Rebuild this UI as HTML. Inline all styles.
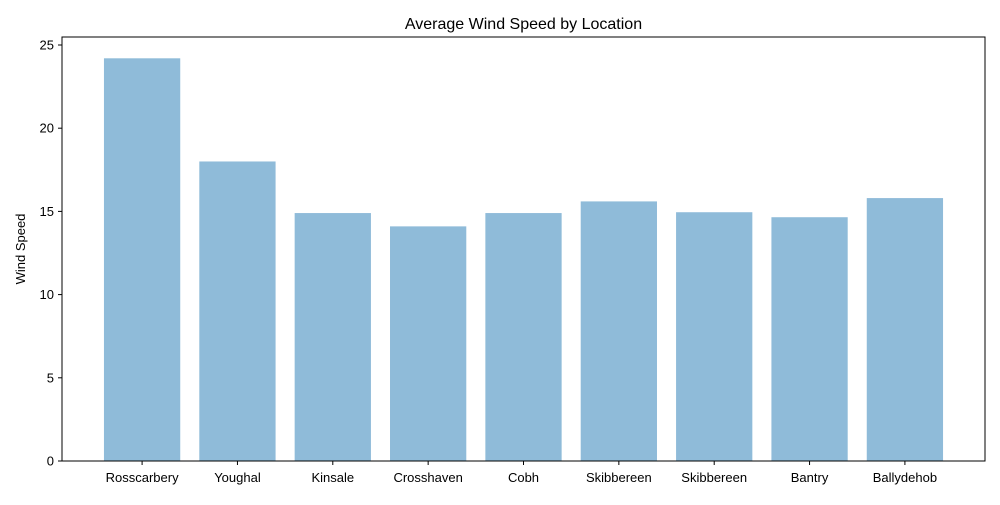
<!DOCTYPE html>
<html><head><meta charset="utf-8"><style>
html,body{margin:0;padding:0;background:#fff;}
svg text{font-family:"Liberation Sans","DejaVu Sans",sans-serif;fill:#000;}
</style></head><body>
<svg id="chart" width="1000" height="500" xmlns="http://www.w3.org/2000/svg">
<rect width="1000" height="500" fill="#fff"/>
<text x="523.5" y="29" font-size="16" text-anchor="middle">Average Wind Speed by Location</text>
<text transform="translate(25,249) rotate(-90)" font-size="13" text-anchor="middle">Wind Speed</text>
<g id="bars"></g>
<g id="axes"></g>
</svg>
<script>
const categories = ["Rosscarbery","Youghal","Kinsale","Crosshaven","Cobh","Skibbereen","Skibbereen","Bantry","Ballydehob"];
const values = [24.2, 18.0, 14.9, 14.1, 14.9, 15.6, 14.95, 14.65, 15.8];
const yTicks = [0, 5, 10, 15, 20, 25];

const L = 62, R = 985, T = 37, B = 461;
const yMax = 25.48;
const xMin = -0.84, xMax = categories.length - 1 + 0.84;
const xs = i => L + (i - xMin) / (xMax - xMin) * (R - L);
const ys = v => B - v / yMax * (B - T);
const NS = "http://www.w3.org/2000/svg";
const bars = document.getElementById('bars');
const axes = document.getElementById('axes');
const unit = (R - L) / (xMax - xMin);

values.forEach((v, i) => {
  const r = document.createElementNS(NS, 'rect');
  r.setAttribute('x', xs(i) - 0.4 * unit);
  r.setAttribute('width', 0.8 * unit);
  r.setAttribute('y', ys(v));
  r.setAttribute('height', B - ys(v));
  r.setAttribute('fill', '#8fbbd9');
  
  
  bars.appendChild(r);
  const tk = document.createElementNS(NS, 'line');
  tk.setAttribute('x1', xs(i)); tk.setAttribute('x2', xs(i));
  tk.setAttribute('y1', B); tk.setAttribute('y2', B + 4);
  tk.setAttribute('stroke', '#000');
  
  
  axes.appendChild(tk);
  const t = document.createElementNS(NS, 'text');
  t.setAttribute('x', xs(i)); t.setAttribute('y', B + 21);
  t.setAttribute('font-size', '13'); t.setAttribute('text-anchor', 'middle');
  t.textContent = categories[i];
  
  
  axes.appendChild(t);
});
yTicks.forEach(v => {
  const tk = document.createElementNS(NS, 'line');
  tk.setAttribute('x1', L - 4); tk.setAttribute('x2', L);
  tk.setAttribute('y1', ys(v)); tk.setAttribute('y2', ys(v));
  tk.setAttribute('stroke', '#000');
  
  
  axes.appendChild(tk);
  const t = document.createElementNS(NS, 'text');
  t.setAttribute('x', L - 8); t.setAttribute('y', ys(v) + 4.5);
  t.setAttribute('font-size', '13'); t.setAttribute('text-anchor', 'end');
  t.textContent = v;
  
  
  axes.appendChild(t);
});
const frame = document.createElementNS(NS, 'rect');
frame.setAttribute('x', L); frame.setAttribute('y', T);
frame.setAttribute('width', R - L); frame.setAttribute('height', B - T);
frame.setAttribute('fill', 'none'); frame.setAttribute('stroke', '#000');


axes.appendChild(frame);
</script>
</body></html>
